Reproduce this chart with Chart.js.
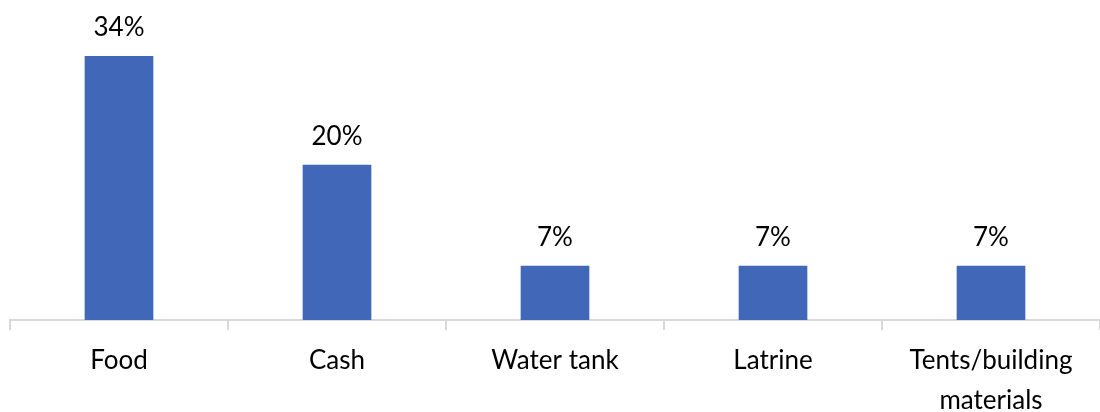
<!DOCTYPE html>
<html>
<head>
<meta charset="utf-8">
<script src="https://cdn.jsdelivr.net/npm/chart.js@4"></script>
<style>
  html, body { margin: 0; padding: 0; background: #fff; }
  #wrap { width: 1100px; height: 412px; }
</style>
</head>
<body>
<div id="wrap"><canvas id="myChart"></canvas></div>
<script>
const categories = ['Food', 'Cash', 'Water tank', 'Latrine', ['Tents/building', 'materials']];
const shares = [34, 20, 7, 7, 7];

const FONT = 'Lato, "DejaVu Sans", sans-serif';

// writes the percentage above each bar
const valueLabels = {
  id: 'valueLabels',
  afterDatasetsDraw(chart) {
    const ctx = chart.ctx;
    const meta = chart.getDatasetMeta(0);
    ctx.save();
    ctx.font = '26px ' + FONT;
    ctx.fillStyle = '#000';
    ctx.textAlign = 'center';
    ctx.textBaseline = 'alphabetic';
    meta.data.forEach((bar, i) => {
      ctx.fillText(shares[i] + '%', bar.x, bar.y - 20);
    });
    ctx.restore();
  },
};

new Chart(document.getElementById('myChart').getContext('2d'), {
  type: 'bar',
  data: {
    labels: categories,
    datasets: [{
      data: shares,
      backgroundColor: '#4167B8',
      categoryPercentage: 1,
      barPercentage: 0.315,
    }],
  },
  options: {
    responsive: true,
    maintainAspectRatio: false,
    animation: false,
    layout: { padding: { left: 10, right: 0, top: 0, bottom: 0 } },
    plugins: { legend: { display: false }, tooltip: { enabled: false } },
    scales: {
      y: { display: false, min: 0, max: 41.2 },
      x: {
        // labels are allowed to run to the bottom edge
        afterFit(scale) { scale.height = 92; },
        grid: { drawOnChartArea: false, color: '#d9d9d9', lineWidth: 2, tickLength: 10 },
        border: { color: '#d9d9d9', width: 2 },
        ticks: { color: '#000', font: { family: FONT, size: 26, lineHeight: 1.54 }, padding: 11, maxRotation: 0, autoSkip: false },
      },
    },
  },
  plugins: [valueLabels],
});
</script>
</body>
</html>
